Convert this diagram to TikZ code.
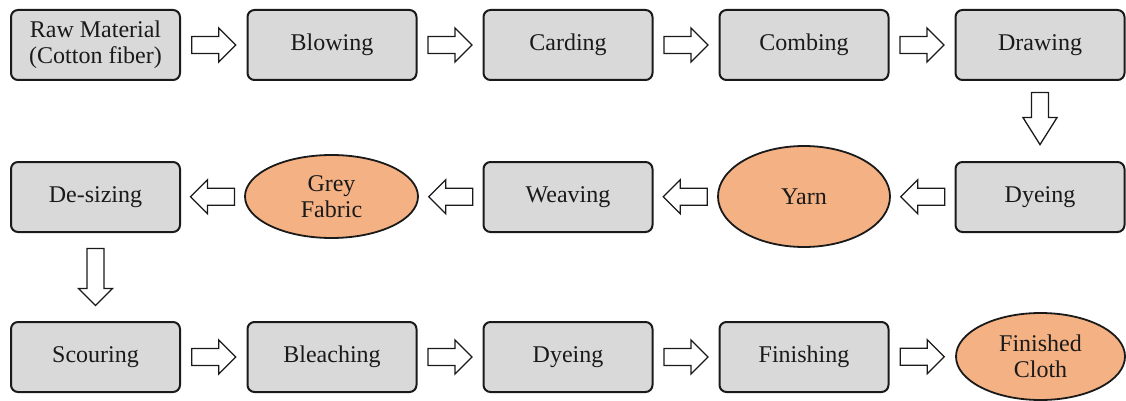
\documentclass[tikz,border=0pt]{standalone}
\usepackage{fontspec}
\setmainfont{Liberation Serif}
\usetikzlibrary{shapes.geometric,calc}
\definecolor{boxgray}{HTML}{D9D9D9}
\definecolor{ovalorange}{HTML}{F4B183}
\definecolor{ink}{HTML}{1A1A1A}
\tikzset{
  every node/.style={font=\fontsize{24}{26}\selectfont, text=ink, align=center},
  procbox/.style={draw=ink, fill=boxgray, line width=2pt, rounded corners=7pt,
    minimum width=169pt, minimum height=70pt, inner sep=0pt},
  oval/.style={ellipse, draw=ink, fill=ovalorange, line width=1.8pt, inner sep=0pt},
  arrowst/.style={draw=ink, fill=white, line width=1.3pt, line join=miter},
  pics/blockarrow/.style args={#1/#2}{code={
    \draw[arrowst] (-#1/2,-8.5) -- ({#1/2-#2},-8.5) -- ({#1/2-#2},-17) -- (#1/2,0)
      -- ({#1/2-#2},17) -- ({#1/2-#2},8.5) -- (-#1/2,8.5) -- cycle;}}
}
\begin{document}
\begin{tikzpicture}[x=1pt,y=-1pt]
\useasboundingbox (0,0) rectangle (1126,401);
% row 1
\node[procbox] (raw) at (95.5,45) {Raw Material\\(Cotton fiber)};
\node[procbox] (blow) at (332,45) {Blowing};
\node[procbox] (card) at (568,45) {Carding};
\node[procbox] (comb) at (804,45) {Combing};
\node[procbox] (draw) at (1040,45) {Drawing};
% row 2
\node[procbox] (dye1) at (1040,197) {Dyeing};
\node[oval, minimum width=172pt, minimum height=101pt] (yarn) at (804,196.5) {Yarn};
\node[procbox] (weave) at (568,197) {Weaving};
\node[oval, minimum width=173pt, minimum height=83pt] (grey) at (331.5,196.5) {Grey\\Fabric};
\node[procbox] (desize) at (95.5,197) {De-sizing};
% row 3
\node[procbox] (scour) at (95.5,357) {Scouring};
\node[procbox] (bleach) at (332,357) {Bleaching};
\node[procbox] (dye2) at (568,357) {Dyeing};
\node[procbox] (finish) at (804,357) {Finishing};
\node[oval, minimum width=169pt, minimum height=87pt] (cloth) at (1040.5,356.5) {Finished\\Cloth};
% arrows row 1
\pic at ($(raw.east)!0.5!(blow.west)$) {blockarrow=44/17};
\pic at ($(blow.east)!0.5!(card.west)$) {blockarrow=44/17};
\pic at ($(card.east)!0.5!(comb.west)$) {blockarrow=44/17};
\pic at ($(comb.east)!0.5!(draw.west)$) {blockarrow=44/17};
% down
\pic[rotate=-90] at ($(draw.south)!0.47!(dye1.north)$) {blockarrow=52/27};
% row 2 (leftwards)
\pic[rotate=180] at ($(dye1.west)!0.5!(yarn.east)$) {blockarrow=44/17};
\pic[rotate=180] at ($(yarn.west)!0.5!(weave.east)$) {blockarrow=44/17};
\pic[rotate=180] at ($(weave.west)!0.5!(grey.east)$) {blockarrow=44/17};
\pic[rotate=180] at ($(grey.west)!0.5!(desize.east)$) {blockarrow=44/17};
% down
\pic[rotate=-90] at ($(desize.south)!0.5!(scour.north)$) {blockarrow=57/17};
% row 3
\pic at ($(scour.east)!0.5!(bleach.west)$) {blockarrow=44/17};
\pic at ($(bleach.east)!0.5!(dye2.west)$) {blockarrow=44/17};
\pic at ($(dye2.east)!0.5!(finish.west)$) {blockarrow=44/17};
\pic at ($(finish.east)!0.5!(cloth.west)$) {blockarrow=44/17};
\end{tikzpicture}
\end{document}
